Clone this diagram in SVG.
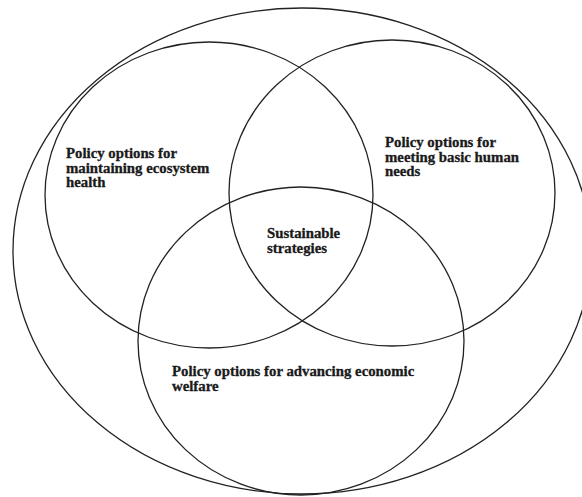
<svg xmlns="http://www.w3.org/2000/svg" width="582" height="497" viewBox="0 0 582 497">
  <style>
    .ring { fill: none; stroke: #222; stroke-width: 1.3; }
    .lbl { font-family: "Liberation Serif", "Times New Roman", serif; font-weight: bold; font-size: 14.8px; fill: #1a1a1a; stroke: #1a1a1a; stroke-width: 0.3; }
  </style>
  <rect width="582" height="497" fill="#ffffff"/>
  <g id="outer">
    <ellipse class="ring" cx="302" cy="251" rx="289" ry="243"/>
  </g>
  <g id="ecosystem">
    <ellipse class="ring" cx="209" cy="195" rx="164" ry="153"/>
    <text class="lbl" x="66" y="158">Policy options for</text>
    <text class="lbl" x="66" y="172.5">maintaining ecosystem</text>
    <text class="lbl" x="66" y="187">health</text>
  </g>
  <g id="human-needs">
    <ellipse class="ring" cx="392" cy="193" rx="163" ry="153"/>
    <text class="lbl" x="385" y="147">Policy options for</text>
    <text class="lbl" x="385" y="161.5">meeting basic human</text>
    <text class="lbl" x="385" y="176">needs</text>
  </g>
  <g id="economic-welfare">
    <ellipse class="ring" cx="301" cy="341" rx="163" ry="154"/>
    <text class="lbl" x="172" y="376">Policy options for advancing economic</text>
    <text class="lbl" x="172" y="390.5">welfare</text>
  </g>
  <g id="sustainable">
    <text class="lbl" x="267" y="238">Sustainable</text>
    <text class="lbl" x="267" y="252.5">strategies</text>
  </g>
</svg>
